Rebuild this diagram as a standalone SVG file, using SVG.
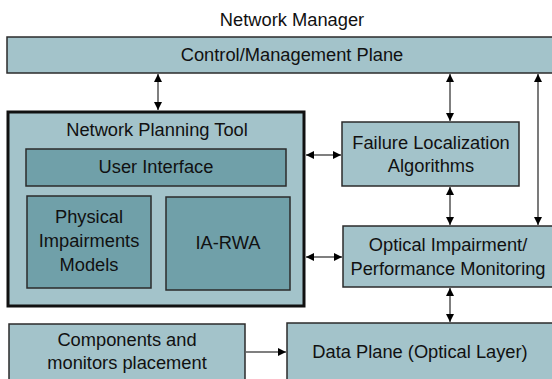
<svg xmlns="http://www.w3.org/2000/svg" width="552" height="379" viewBox="0 0 552 379">
  <defs>
    <style>
      .box { fill: #a3c3ca; stroke: #2b2b2b; stroke-width: 1.5; }
      .inner { fill: #70a0a9; stroke: #2b2b2b; stroke-width: 1.5; }
      .outer { fill: #a3c3ca; stroke: #111; stroke-width: 3; }
      .lbl { font-family: "Liberation Sans", Arial, sans-serif; font-size: 18.3px; fill: #111; text-anchor: middle; }
      .link { stroke: #555; stroke-width: 1.5; fill: none; }
      .link-dark { stroke: #222; stroke-width: 1.2; fill: none; }
    </style>
    <marker id="head" viewBox="0 0 10 10" refX="10" refY="5" markerWidth="8" markerHeight="8" markerUnits="userSpaceOnUse" orient="auto-start-reverse">
      <path d="M0,0 L10,5 L0,10 z" fill="#000"/>
    </marker>
  </defs>

  <text class="lbl" x="292" y="26">Network Manager</text>

  <g id="control-plane">
    <rect class="box" x="7" y="37" width="550" height="36"/>
    <text class="lbl" x="292" y="61">Control/Management Plane</text>
  </g>

  <g id="planning-tool">
    <rect class="outer" x="8" y="112" width="296" height="194"/>
    <text class="lbl" x="157" y="136">Network Planning Tool</text>
  </g>

  <g id="user-interface">
    <rect class="inner" x="26" y="149" width="260" height="37"/>
    <text class="lbl" x="156" y="173">User Interface</text>
  </g>

  <g id="impairment-models">
    <rect class="inner" x="27" y="196" width="124" height="92"/>
    <text class="lbl" x="89" y="223">Physical</text>
    <text class="lbl" x="89" y="247">Impairments</text>
    <text class="lbl" x="89" y="271">Models</text>
  </g>

  <g id="ia-rwa">
    <rect class="inner" x="166" y="197" width="124" height="93"/>
    <text class="lbl" x="228" y="249">IA-RWA</text>
  </g>

  <g id="failure-localization">
    <rect class="box" x="342" y="122" width="177" height="64"/>
    <text class="lbl" x="431" y="149">Failure Localization</text>
    <text class="lbl" x="431" y="172">Algorithms</text>
  </g>

  <g id="monitoring">
    <rect class="box" x="343" y="226" width="210" height="61"/>
    <text class="lbl" x="448" y="251">Optical Impairment/</text>
    <text class="lbl" x="448" y="275">Performance Monitoring</text>
  </g>

  <g id="placement">
    <rect class="box" x="9" y="324" width="236" height="60"/>
    <text class="lbl" x="127" y="346">Components and</text>
    <text class="lbl" x="127" y="369">monitors placement</text>
  </g>

  <g id="data-plane">
    <rect class="box" x="287" y="323" width="270" height="60"/>
    <text class="lbl" x="420" y="358">Data Plane (Optical Layer)</text>
  </g>

  <g id="connectors">
    <line class="link" x1="158" y1="74" x2="158" y2="110" marker-start="url(#head)" marker-end="url(#head)"/>
    <line class="link" x1="450" y1="74" x2="450" y2="121" marker-start="url(#head)" marker-end="url(#head)"/>
    <line class="link-dark" x1="538" y1="74" x2="538" y2="225" marker-start="url(#head)" marker-end="url(#head)"/>
    <line class="link" x1="306" y1="155" x2="341" y2="155" marker-start="url(#head)" marker-end="url(#head)"/>
    <line class="link" x1="306" y1="257" x2="342" y2="257" marker-start="url(#head)" marker-end="url(#head)"/>
    <line class="link" x1="450" y1="187" x2="450" y2="225" marker-start="url(#head)" marker-end="url(#head)"/>
    <line class="link" x1="450" y1="288" x2="450" y2="322" marker-start="url(#head)" marker-end="url(#head)"/>
    <line class="link" x1="246" y1="352" x2="286" y2="352" marker-end="url(#head)"/>
  </g>
</svg>
